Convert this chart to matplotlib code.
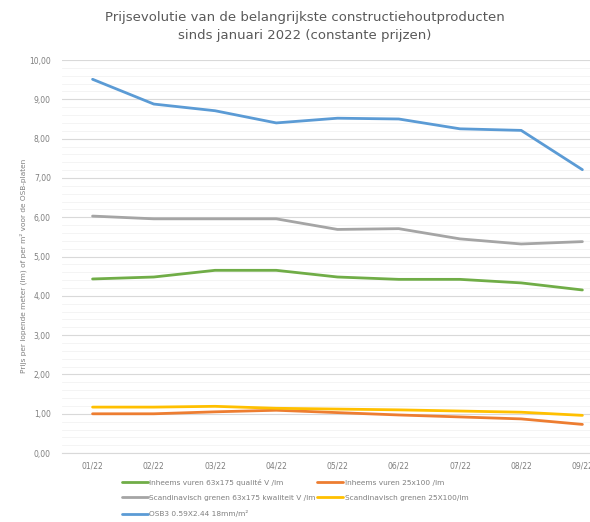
import numpy as np
import matplotlib
matplotlib.use('Agg')
import matplotlib.pyplot as plt
from matplotlib.ticker import FuncFormatter, MultipleLocator

months=['01/22','02/22','03/22','04/22','05/22','06/22','07/22','08/22','09/22']
inheems_63=[4.43,4.48,4.65,4.65,4.48,4.42,4.42,4.33,4.15]
inheems_25=[1.00,1.00,1.05,1.09,1.03,0.97,0.92,0.87,0.73]
scand_63=[6.03,5.96,5.96,5.96,5.69,5.71,5.45,5.32,5.38]
scand_25=[1.17,1.17,1.19,1.14,1.12,1.10,1.07,1.04,0.96]
osb=[9.51,8.88,8.71,8.40,8.52,8.50,8.25,8.21,7.21]

labels=['Inheems vuren 63x175 qualité V /lm','Inheems vuren 25x100 /lm',
        'Scandinavisch grenen 63x175 kwaliteit V /lm','Scandinavisch grenen 25X100/lm',
        'OSB3 0.59X2.44 18mm/m²']
series=[inheems_63,inheems_25,scand_63,scand_25,osb]
colors=['#70AD47','#ED7D31','#A5A5A5','#FFC000','#5B9BD5']
txt='#7f7f7f'

fig=plt.figure(figsize=(5.9,5.22),dpi=100)
ax=fig.add_axes([0.105,0.132,0.934,0.753])
x=np.arange(len(months))
handles=[]
for s,c,l in zip(series,colors,labels):
    h,=ax.plot(x,s,color=c,lw=2.0,solid_capstyle='round',label=l)
    handles.append(h)

ax.set_xlim(-0.5,len(months)-0.5)
ax.set_ylim(0,10)
ax.yaxis.set_major_locator(MultipleLocator(1))
ax.yaxis.set_minor_locator(MultipleLocator(0.2))
ax.yaxis.set_major_formatter(FuncFormatter(lambda v,p:('%.2f'%v).replace('.',',')))
ax.grid(axis='y',which='major',color='#d9d9d9',lw=0.8)
ax.grid(axis='y',which='minor',color='#f3f3f3',lw=0.6)
ax.set_axisbelow(True)
ax.set_xticks(x)
ax.set_xticklabels(months)
for sp in ['top','right','left']:
    ax.spines[sp].set_visible(False)
ax.spines['bottom'].set_color('#d9d9d9')
ax.tick_params(axis='both',which='both',length=0,labelsize=5.5,colors=txt)
ax.tick_params(axis='y',pad=8)
ax.tick_params(axis='x',pad=6)

fig.text(0.040,0.49,'Prijs per lopende meter (lm) of per m² voor de OSB-platen',
         rotation=90,ha='center',va='center',fontsize=5.3,color=txt)
fig.text(0.517,0.978,'Prijsevolutie van de belangrijkste constructiehoutproducten\nsinds januari 2022 (constante prijzen)',
         ha='center',va='top',fontsize=9.5,color='#595959',linespacing=1.45)

order=[0,2,4,1,3]
fig.legend([handles[i] for i in order],[labels[i] for i in order],ncol=2,
           loc='upper left',bbox_to_anchor=(0.207,0.083),frameon=False,
           fontsize=5.3,labelcolor=txt,handlelength=3.5,handletextpad=0.2,
           columnspacing=0.2,labelspacing=1.25,borderaxespad=0,borderpad=0)

fig.savefig('out.png',dpi=100)
